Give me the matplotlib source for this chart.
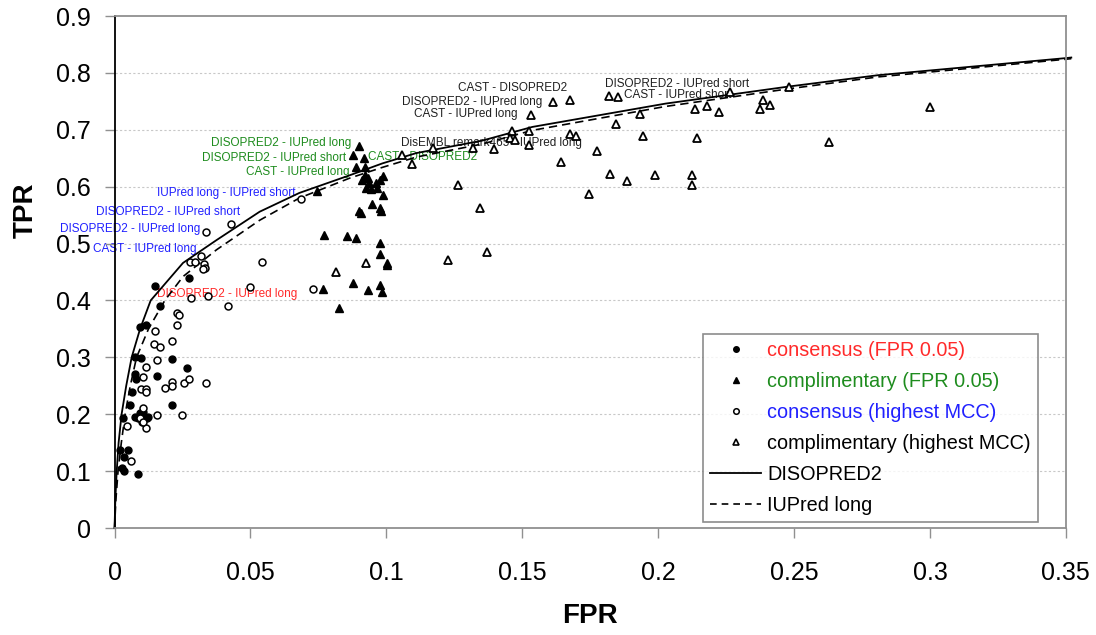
import matplotlib
matplotlib.use('Agg')
import matplotlib.pyplot as plt
from matplotlib.lines import Line2D

plt.rcParams['font.family'] = ['Liberation Sans', 'DejaVu Sans']

# ROC curves of the single predictors
disopred2_fpr = [0, 0.0003, 0.0008, 0.0015, 0.0026, 0.0043, 0.0063, 0.0094, 0.0133, 0.0252, 0.0375,
                 0.0534, 0.068, 0.0865, 0.0986, 0.111, 0.1353, 0.1537, 0.2027, 0.248, 0.281, 0.35, 0.352]
disopred2_tpr = [0, 0.05, 0.1, 0.15, 0.2, 0.25, 0.3, 0.35, 0.4, 0.466, 0.506,
                 0.556, 0.589, 0.62, 0.641, 0.659, 0.681, 0.705, 0.746, 0.776, 0.796, 0.826, 0.827]
iupred_fpr = [0, 0.0005, 0.0013, 0.0025, 0.0039, 0.0058, 0.0081, 0.0125, 0.0185, 0.0252, 0.0375,
              0.0534, 0.068, 0.0865, 0.0986, 0.111, 0.1353, 0.1537, 0.2027, 0.248, 0.281, 0.35, 0.352]
iupred_tpr = [0, 0.05, 0.1, 0.15, 0.2, 0.25, 0.3, 0.35, 0.4, 0.442, 0.489,
              0.541, 0.58, 0.615, 0.634, 0.652, 0.675, 0.699, 0.741, 0.772, 0.793, 0.824, 0.825]

# consensus (FPR 0.05) - filled circles
cons05_fpr = [0.0149, 0.0167, 0.0094, 0.0114, 0.0075, 0.0096, 0.0211, 0.0266, 0.0075, 0.0078, 0.0156,
              0.0064, 0.0057, 0.0211, 0.0031, 0.0075, 0.0094, 0.0105, 0.0118, 0.0100, 0.0123, 0.0086,
              0.0020, 0.0048, 0.0035, 0.0026, 0.0035, 0.0085, 0.0274]
cons05_tpr = [0.426, 0.390, 0.353, 0.357, 0.300, 0.299, 0.297, 0.281, 0.271, 0.262, 0.267,
              0.239, 0.216, 0.216, 0.193, 0.196, 0.202, 0.204, 0.193, 0.187, 0.196, 0.193,
              0.137, 0.137, 0.125, 0.105, 0.101, 0.095, 0.439]

# complimentary (FPR 0.05) - filled triangles
comp05_fpr = [0.0898, 0.0876, 0.0916, 0.0887, 0.0923, 0.0920, 0.0931, 0.0911, 0.0938, 0.0986, 0.0975,
              0.0962, 0.0967, 0.0927, 0.0944, 0.0986, 0.0746, 0.0898, 0.0907, 0.0948, 0.0977, 0.0981,
              0.0769, 0.0856, 0.0887, 0.0977, 0.0977, 0.1004, 0.1002, 0.0876, 0.0766, 0.0931, 0.0977,
              0.0985, 0.0825]
comp05_tpr = [0.672, 0.656, 0.650, 0.635, 0.635, 0.620, 0.615, 0.612, 0.606, 0.619, 0.612,
              0.606, 0.598, 0.598, 0.596, 0.585, 0.592, 0.558, 0.554, 0.569, 0.562, 0.558,
              0.515, 0.513, 0.510, 0.501, 0.482, 0.466, 0.462, 0.431, 0.420, 0.418, 0.427,
              0.415, 0.386]

# consensus (highest MCC) - open circles
consmcc_fpr = [0.0497, 0.0283, 0.0343, 0.0417, 0.0732, 0.0228, 0.0237, 0.0228, 0.0149, 0.0145, 0.0167,
               0.0211, 0.0156, 0.0114, 0.0105, 0.0212, 0.0213, 0.0185, 0.0255, 0.0274, 0.0336, 0.0096,
               0.0114, 0.0114, 0.0105, 0.0156, 0.0247, 0.0046, 0.0114, 0.0059, 0.0094, 0.0104,
               0.0687, 0.0428, 0.0336, 0.0318, 0.0277, 0.0295, 0.0329, 0.0332, 0.0325, 0.0544]
consmcc_tpr = [0.424, 0.404, 0.408, 0.390, 0.420, 0.378, 0.374, 0.357, 0.347, 0.323, 0.318,
               0.329, 0.295, 0.283, 0.266, 0.257, 0.250, 0.246, 0.255, 0.262, 0.255, 0.244,
               0.244, 0.239, 0.211, 0.199, 0.199, 0.180, 0.176, 0.118, 0.193, 0.187,
               0.578, 0.534, 0.520, 0.478, 0.468, 0.468, 0.464, 0.457, 0.455, 0.467]

# complimentary (highest MCC) - open triangles
compmcc_fpr = [0.1058, 0.1093, 0.1173, 0.1265, 0.1320, 0.1344, 0.1372, 0.1228, 0.1397, 0.1462, 0.1454,
               0.1474, 0.1525, 0.1525, 0.1534, 0.1613, 0.1676, 0.1644, 0.1675, 0.1697, 0.1746, 0.1774,
               0.1822, 0.1819, 0.1853, 0.1846, 0.1884, 0.1935, 0.1945, 0.1990, 0.2125, 0.2125, 0.2134,
               0.2143, 0.2180, 0.2223, 0.2263, 0.2376, 0.2384, 0.2413, 0.2483, 0.2630, 0.3002,
               0.0813, 0.0926]
compmcc_tpr = [0.656, 0.639, 0.668, 0.603, 0.668, 0.562, 0.486, 0.471, 0.666, 0.698, 0.685,
               0.682, 0.698, 0.673, 0.726, 0.749, 0.752, 0.644, 0.692, 0.689, 0.587, 0.663,
               0.623, 0.760, 0.758, 0.710, 0.610, 0.728, 0.689, 0.620, 0.620, 0.603, 0.736,
               0.686, 0.742, 0.731, 0.767, 0.736, 0.752, 0.743, 0.776, 0.678, 0.740,
               0.450, 0.466]

# pair labels: text, fpr, tpr, colour, alignment
red = '#ff2a2a'
green = '#1e8c1e'
blue = '#2020ff'
labels = [
    ('IUPred long - IUPred short', 0.0666, 0.589, blue, 'right'),
    ('DISOPRED2 - IUPred short', 0.0461, 0.555, blue, 'right'),
    ('DISOPRED2 - IUPred long', 0.0314, 0.525, blue, 'right'),
    ('CAST - IUPred long', 0.0303, 0.490, blue, 'right'),
    ('DISOPRED2 - IUPred long', 0.0156, 0.411, red, 'left'),
    ('DISOPRED2 - IUPred long', 0.0871, 0.676, green, 'right'),
    ('DISOPRED2 - IUPred short', 0.0852, 0.651, green, 'right'),
    ('CAST - IUPred long', 0.0865, 0.626, green, 'right'),
    ('CAST - DISOPRED2', 0.0932, 0.653, green, 'left'),
    ('CAST - DISOPRED2', 0.1665, 0.773, '#202020', 'right'),
    ('DISOPRED2 - IUPred long', 0.1573, 0.749, '#202020', 'right'),
    ('CAST - IUPred long', 0.1481, 0.728, '#202020', 'right'),
    ('DisEMBL remark465 - IUPred long', 0.1054, 0.676, '#202020', 'left'),
    ('DISOPRED2 - IUPred short', 0.1804, 0.781, '#202020', 'left'),
    ('CAST - IUPred short', 0.1874, 0.762, '#202020', 'left'),
]

fig = plt.figure(figsize=(10.96, 6.35), dpi=100)
ax = fig.add_axes([0.1045, 0.1685, 0.868, 0.8063])

ax.plot(disopred2_fpr, disopred2_tpr, color='black', lw=1.3, clip_on=False, zorder=2)
ax.plot(iupred_fpr, iupred_tpr, color='black', lw=1.2, ls=(0, (5, 3)), clip_on=False, zorder=2)

ax.plot(cons05_fpr, cons05_tpr, 'o', ms=5, mfc='black', mec='black', mew=1, zorder=3)
ax.plot(comp05_fpr, comp05_tpr, '^', ms=6, mfc='black', mec='black', mew=1, zorder=3)
ax.plot(consmcc_fpr, consmcc_tpr, 'o', ms=5, mfc='white', mec='black', mew=1.1, zorder=3)
ax.plot(compmcc_fpr, compmcc_tpr, '^', ms=6, mfc='white', mec='black', mew=1.3, zorder=3)

for txt, x, y, c, ha in labels:
    ax.text(x, y, txt, color=c, ha=ha, va='center', fontsize=8.5, zorder=1.5)

ax.set_xlim(0, 0.35)
ax.set_ylim(0, 0.9)
xt = [0, 0.05, 0.1, 0.15, 0.2, 0.25, 0.3, 0.35]
yt = [0, 0.1, 0.2, 0.3, 0.4, 0.5, 0.6, 0.7, 0.8, 0.9]
ax.set_xticks(xt)
ax.set_xticklabels([f'{v:g}' for v in xt])
ax.set_yticks(yt)
ax.set_yticklabels([f'{v:g}' for v in yt])
ax.tick_params(axis='both', labelsize=18, length=7, width=1, color='#909090', direction='out')
ax.tick_params(axis='x', pad=17)
ax.tick_params(axis='y', pad=10)

for y in yt[1:-1]:
    ax.axhline(y, color='#c8c8c8', lw=0.8, ls=(0, (2, 2)), zorder=0)

for s in ['top', 'right', 'bottom']:
    ax.spines[s].set_color('#909090')
    ax.spines[s].set_linewidth(1.3)
ax.spines['left'].set_color('black')
ax.spines['left'].set_linewidth(1.3)

ax.set_xlabel('FPR', fontsize=20, fontweight='bold')
ax.set_ylabel('TPR', fontsize=20, fontweight='bold')
ax.xaxis.set_label_coords(0.5, -0.146)
ax.yaxis.set_label_coords(-0.08, 0.62)

handles = [
    Line2D([], [], ls='none', marker='o', ms=4, mfc='black', mec='black'),
    Line2D([], [], ls='none', marker='^', ms=4.5, mfc='black', mec='black'),
    Line2D([], [], ls='none', marker='o', ms=4, mfc='white', mec='black', mew=1.1),
    Line2D([], [], ls='none', marker='^', ms=4.5, mfc='white', mec='black', mew=1.2),
    Line2D([], [], color='black', lw=1.3),
    Line2D([], [], color='black', lw=1.2, ls=(0, (4, 3))),
]
names = ['consensus (FPR 0.05)', 'complimentary (FPR 0.05)', 'consensus (highest MCC)',
         'complimentary (highest MCC)', 'DISOPRED2', 'IUPred long']
leg = ax.legend(handles, names, loc='lower right', bbox_to_anchor=(0.9706, 0.0123),
                borderaxespad=0, fontsize=14.3, frameon=True, fancybox=False,
                edgecolor='#707070', handlelength=2.6, handletextpad=0.3,
                labelspacing=0.6, borderpad=0.35)
leg.get_frame().set_linewidth(1.2)
for t, c in zip(leg.get_texts(), [red, green, blue, 'black', 'black', 'black']):
    t.set_color(c)

fig.savefig('out.png', dpi=100)
